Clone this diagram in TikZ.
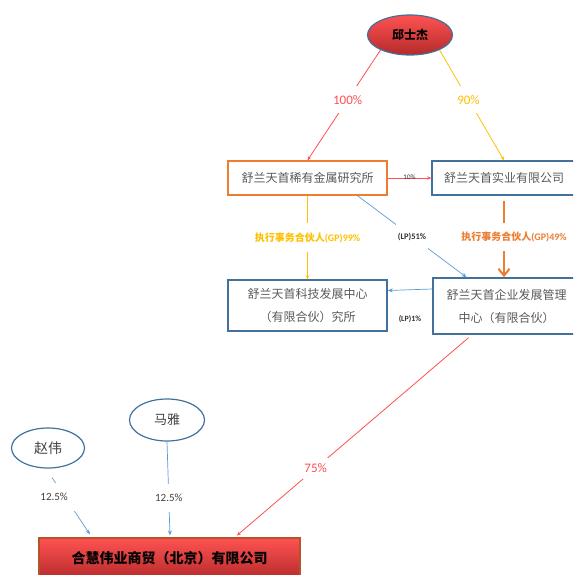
\documentclass[tikz,border=0pt]{standalone}
\usepackage{fontspec}
\setmainfont{Carlito}
\newfontfamily\cjk{Noto Sans CJK SC}
\usetikzlibrary{arrows.meta,calc,shapes.geometric}
\definecolor{redln}{HTML}{FF4F4F}
\definecolor{yelln}{HTML}{FFC000}
\definecolor{orgln}{HTML}{ED7D31}
\definecolor{bluln}{HTML}{5B9BD5}
\definecolor{boxbd}{HTML}{41719C}
\definecolor{boxtx}{HTML}{595959}
\definecolor{redtop}{HTML}{FF5252}
\definecolor{redbot}{HTML}{B52A2A}
\definecolor{hhbd}{HTML}{B5542A}
\begin{document}
\begin{tikzpicture}[x=1pt,y=-1pt,
  ellnode/.style={ellipse,draw=boxbd,line width=1.2pt,inner sep=0pt},
  boxnode/.style={rectangle,draw=boxbd,line width=1.4pt,align=center,text=boxtx,
     font=\cjk\fontsize{12}{23}\selectfont,inner sep=0pt},
  redline/.style={draw=redln,line width=0.8pt,-{Stealth[length=4pt,width=3.5pt]}},
  yelline/.style={draw=yelln,line width=0.8pt,-{Stealth[length=4pt,width=3.5pt]}},
  blueline/.style={draw=bluln,line width=0.7pt,-{Stealth[length=5pt,width=4pt]}},
  orgline/.style={draw=orgln,line width=2.2pt,-{Straight Barb[length=7pt,width=11pt,line width=2pt]}},
  pct/.style={fill=white,inner xsep=3pt,inner ysep=9pt,font=\fontsize{13}{15}\selectfont},
  gplbl/.style={fill=white,inner xsep=2pt,inner ysep=9pt,font=\bfseries\fontsize{10}{12}\selectfont},
  lplbl/.style={fill=white,inner xsep=2pt,inner ysep=10pt,font=\bfseries\fontsize{8.5}{10}\selectfont,text=black!80},
  sm/.style={fill=white,inner ysep=10pt,inner xsep=2pt,font=\fontsize{11}{13}\selectfont,text=black!75}
]
\useasboundingbox (0,0) rectangle (573,575);
\clip (0,0) rectangle (573,575);

% nodes
\node[ellnode,minimum width=85,minimum height=40,top color=redtop,bottom color=redbot]
  (qiu) at (410,35) {\cjk\bfseries\fontsize{12}{14}\selectfont 邱士杰};
\node[boxnode,draw=orgln,minimum width=159,minimum height=34] (b1) at (307.5,178)
  {舒兰天首稀有金属研究所};
\node[boxnode,minimum width=144,minimum height=34] (b2) at (504,178)
  {舒兰天首实业有限公司};
\node[boxnode,minimum width=159,minimum height=51] (b3) at (307.5,305.5)
  {舒兰天首科技发展中心\\（有限合伙）究所};
\node[boxnode,minimum width=147,minimum height=56] (b4) at (506.5,306)
  {舒兰天首企业发展管理\\中心（有限合伙）};
\node[ellnode,minimum width=73,minimum height=40,text=black!75] (zw) at (48,448)
  {\cjk\fontsize{14}{16}\selectfont 赵伟};
\node[ellnode,minimum width=75,minimum height=42,text=black!75] (my) at (167,420)
  {\cjk\fontsize{13}{15}\selectfont 马雅};
\node[rectangle,draw=hhbd,line width=1.2pt,minimum width=261,minimum height=42,
  top color=redtop,bottom color=redbot,inner sep=0pt] (hh) at (169.5,559)
  {\raisebox{4pt}{\cjk\bfseries\fontsize{14}{16}\selectfont 合慧伟业商贸（北京）有限公司}};

% connectors
\draw[redline] (qiu.207) -- (b1.north)
  node[pct,pos=0.45,text=redln] {100\%};
\draw[yelline] (qiu.-27) -- (b2.north)
  node[pct,pos=0.45,text=yelln] {90\%};
\draw[redline] (b1.east) -- (b2.west)
  node[midway,anchor=south,inner sep=0pt,yshift=-2pt,font=\fontsize{7}{8}\selectfont,text=black!80] {10\%};
\draw[yelline] (b1.south) -- (b3.north)
  node[gplbl,midway,text=yelln] {{\cjk 执行事务合伙人}(GP)99\%};
\draw[blueline] ($(b1.south)+(50,0)$) -- ($(b4.north)+(-40,0)$)
  node[lplbl,midway] {(LP)51\%};
\draw[orgline] ($(b2.south)+(0,5)$) -- (b2.south |- b4.north)
  node[gplbl,pos=0.47,text=orgln,xshift=10pt] {{\cjk 执行事务合伙人}(GP)49\%};
\draw[blueline] ($(b4.west)+(0,-17)$) -- ($(b3.east)+(0,-15)$)
  node[midway,yshift=-29pt,font=\bfseries\fontsize{8}{10}\selectfont,text=black!80] {(LP)1\%};
\draw[redline] ($(b4.south)+(-38,3)$) -- ($(hh.north)+(67.5,-2)$)
  node[pct,pos=0.66,text=redln,inner ysep=6pt] {75\%};
\draw[blueline] ($(zw.south)+(4,9)$) -- ($(hh.north)+(-79.5,-3)$)
  node[sm,pos=0.345,xshift=-11pt,minimum width=44,minimum height=28,inner ysep=0pt] {12.5\%};
\draw[blueline] (my.south) -- ($(hh.north)+(0.5,-2)$)
  node[sm,pos=0.6] {12.5\%};
\end{tikzpicture}
\end{document}
